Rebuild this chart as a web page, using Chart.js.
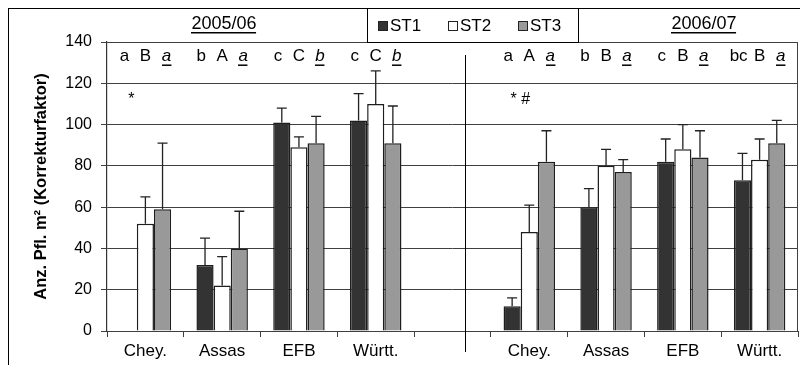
<!DOCTYPE html>
<html>
<head>
<meta charset="utf-8">
<script src="https://cdn.jsdelivr.net/npm/chart.js@4.4.1/dist/chart.umd.min.js"></script>
<style>
    html, body { margin: 0; padding: 0; background: #fff; }
    #wrap { width: 800px; height: 365px; }
</style>
</head>
<body>
<div id="wrap"><canvas id="chart" width="800" height="365"></canvas></div>
<script>
// categories: 2005/06 block, empty gap, 2006/07 block
const categories = ['Chey.', 'Assas', 'EFB', 'Württ.', '', 'Chey.', 'Assas', 'EFB', 'Württ.'];
const seriesNames = ['ST1', 'ST2', 'ST3'];

const st1Values = [0, 32, 101, 102, null, 12, 60, 82, 73];
const st2Values = [52, 22, 89, 110, null, 48, 80, 88, 83];
const st3Values = [59, 40, 91, 91, null, 82, 77, 84, 91];

// standard deviations (upper error bar only)
const st1Sd = [null, 13, 7, 13, null, 4, 9, 11, 13];
const st2Sd = [13, 14, 5, 16, null, 13, 8, 12, 10];
const st3Sd = [32, 18, 13, 18, null, 15, 6, 13, 11];

// significance letters above each bar group
const st1Letters = ['a', 'b', 'c', 'c', '', 'a', 'b', 'c', 'bc'];
const st2Letters = ['B', 'A', 'C', 'C', '', 'A', 'B', 'B', 'B'];
const st3Letters = ['a', 'a', 'b', 'b', '', 'a', 'a', 'a', 'a'];

const seasonTitles = ['2005/06', '2006/07'];
const yTicks = [0, 20, 40, 60, 80, 100, 120, 140];
const yTitle = 'Anz. Pfl. m² (Korrekturfaktor)';

const fontFamily = "'Liberation Sans', Arial, sans-serif";
const palette = {
    st1: '#333333',
    st2: '#ffffff',
    st3: '#999999',
    edge: '#1e1e1e',
    grid: '#404040',
};

const errorsBySeries = [st1Sd, st2Sd, st3Sd];
const lettersBySeries = [st1Letters, st2Letters, st3Letters];

function underlinedText(ctx, text, x, y, align) {
    ctx.textAlign = align;
    ctx.fillText(text, x, y);
    const w = ctx.measureText(text).width;
    const x0 = align === 'center' ? x - w / 2 : x;
    ctx.fillRect(Math.round(x0), y + 8, w, 1.5);
}

const decorPlugin = {
    id: 'decor',
    afterDatasetsDraw(chart) {
        const { ctx, scales: { x, y } } = chart;
        ctx.save();

        // error bars
        ctx.strokeStyle = '#222';
        ctx.lineWidth = 1.3;
        chart.data.datasets.forEach((ds, i) => {
            const meta = chart.getDatasetMeta(i);
            meta.data.forEach((bar, j) => {
                const sd = errorsBySeries[i][j];
                const v = ds.data[j];
                if (sd == null || v == null) return;
                const yTop = y.getPixelForValue(v + sd);
                ctx.beginPath();
                ctx.moveTo(bar.x, bar.y);
                ctx.lineTo(bar.x, yTop);
                ctx.moveTo(bar.x - 5, yTop);
                ctx.lineTo(bar.x + 5, yTop);
                ctx.stroke();
            });
        });

        // letters
        ctx.fillStyle = '#000';
        ctx.textBaseline = 'middle';
        const letterY = y.getPixelForValue(133);
        categories.forEach((c, j) => {
            const cx = x.getPixelForValue(j);
            lettersBySeries.forEach((letters, i) => {
                const t = letters[j];
                if (!t) return;
                const lx = cx + (i - 1) * 21;
                if (i === 2) {
                    ctx.font = `italic 17px ${fontFamily}`;
                    underlinedText(ctx, t, lx, letterY, 'center');
                } else {
                    ctx.font = `17px ${fontFamily}`;
                    ctx.textAlign = 'center';
                    ctx.fillText(t, lx, letterY);
                }
            });
        });

        // significance marks
        ctx.font = `16px ${fontFamily}`;
        ctx.textAlign = 'center';
        ctx.fillText('*', x.getPixelForValue(0) - 14, y.getPixelForValue(112));
        ctx.fillText('* #', x.getPixelForValue(5) - 9, y.getPixelForValue(112));

        ctx.restore();
    },
    afterDraw(chart) {
        const { ctx, chartArea, scales: { x } } = chart;
        ctx.save();
        ctx.strokeStyle = '#000';
        ctx.lineWidth = 1;

        // outer frame
        ctx.strokeRect(8.5, 8.5, 820, 400);

        // right edge of plot
        ctx.strokeStyle = palette.grid;
        ctx.beginPath();
        ctx.moveTo(chartArea.right - 0.5, chartArea.top);
        ctx.lineTo(chartArea.right - 0.5, chartArea.bottom);
        ctx.stroke();

        // separator between seasons
        const sepX = Math.round(x.getPixelForValue(4) + 12) + 0.5;
        ctx.strokeStyle = '#000';
        ctx.beginPath();
        ctx.moveTo(sepX, 55);
        ctx.lineTo(sepX, 352);
        ctx.stroke();

        // season titles
        ctx.fillStyle = '#000';
        ctx.font = `18px ${fontFamily}`;
        ctx.textBaseline = 'middle';
        underlinedText(ctx, seasonTitles[0], 224, 24, 'center');
        underlinedText(ctx, seasonTitles[1], 704, 24, 'center');

        // legend box
        ctx.strokeStyle = '#000';
        ctx.strokeRect(367.5, 8.5, 211, 34);
        ctx.font = `17px ${fontFamily}`;
        ctx.textAlign = 'left';
        chart.data.datasets.forEach((ds, i) => {
            const lx = 378 + i * 70;
            ctx.fillStyle = ds.backgroundColor;
            ctx.fillRect(lx, 21, 10, 10);
            ctx.strokeStyle = '#222';
            ctx.strokeRect(lx + 0.5, 21.5, 9, 9);
            ctx.fillStyle = '#000';
            ctx.fillText(ds.label, lx + 12, 26.5);
        });

        ctx.restore();
    },
};

const barStyle = {
    borderColor: palette.edge,
    borderWidth: 1.5,
    barPercentage: 1,
    categoryPercentage: 0.67,
};

new Chart(document.getElementById('chart'), {
    type: 'bar',
    data: {
        labels: categories,
        datasets: [
            { label: seriesNames[0], data: st1Values, backgroundColor: palette.st1, ...barStyle },
            { label: seriesNames[1], data: st2Values, backgroundColor: palette.st2, ...barStyle },
            { label: seriesNames[2], data: st3Values, backgroundColor: palette.st3, ...barStyle },
        ],
    },
    options: {
        responsive: false,
        animation: false,
        devicePixelRatio: 1,
        layout: { padding: { top: 42, right: 2, left: 0, bottom: 0 } },
        plugins: {
            legend: { display: false },
            tooltip: { enabled: false },
        },
        scales: {
            x: {
                afterFit: (s) => { s.height = 34; },
                grid: {
                    drawOnChartArea: false,
                    tickLength: 6,
                    color: palette.grid,
                },
                border: { color: palette.grid },
                ticks: {
                    font: { family: fontFamily, size: 17 },
                    color: '#000',
                    padding: 4,
                    maxRotation: 0,
                    autoSkip: false,
                },
            },
            y: {
                min: 0,
                max: 140,
                afterFit: (s) => { s.width = 107; },
                afterBuildTicks: (s) => { s.ticks = yTicks.map((v) => ({ value: v })); },
                grid: {
                    color: palette.grid,
                    tickLength: 6,
                },
                border: { color: '#333', width: 1.2 },
                ticks: {
                    font: { family: fontFamily, size: 16 },
                    color: '#000',
                    padding: 9,
                },
                title: {
                    display: true,
                    text: yTitle,
                    color: '#000',
                    font: { family: fontFamily, size: 16.5, weight: 'bold' },
                    padding: { top: 32, bottom: 0 },
                },
            },
        },
    },
    plugins: [decorPlugin],
});
</script>
</body>
</html>
